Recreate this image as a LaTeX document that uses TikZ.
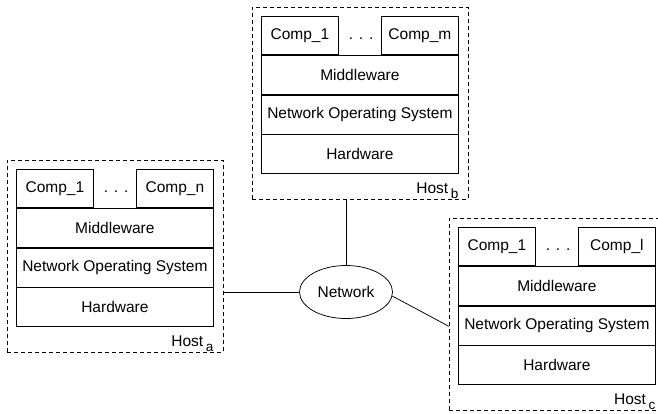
\documentclass[tikz,border=0pt]{standalone}
\usepackage{fontspec}
\setmainfont{Liberation Sans}
\usetikzlibrary{positioning,shapes.geometric}
\tikzset{
    layerbox/.style={
        rectangle,
        draw, % one layer of the stack
        minimum width=197pt,
        minimum height=39pt,
        inner sep=0
    },
    compbox/.style={
        rectangle,
        draw, % component on top of middleware
        minimum width=77pt,
        minimum height=38pt,
        inner sep=0
    },
    hostframe/.style={
        rectangle,
        draw,
        dash pattern=on 4pt off 3pt, % dashed host border
        minimum width=216pt,
        minimum height=192pt,
        inner sep=0,
        anchor=north west
    },
    netnode/.style={
        ellipse,
        draw,
        minimum width=93pt,
        minimum height=53pt,
        inner sep=0
    }
}

\begin{document}
\begin{tikzpicture}[
                x=1pt, y=-1pt,
                line width=0.75pt,
                every node/.style={
                    font=\fontsize{15.5}{18}\selectfont
                }
            ]
            \useasboundingbox (0,0) rectangle (658,413);
            % the three hosts
            \foreach \h/\x/\y/\cn in {a/16/169/n, b/261/16/m, c/458/227/l} {
                \node[compbox, anchor=north west] (\h-c1) at (\x,\y) {Comp\_1};
                \node[layerbox, anchor=north west] (\h-mw) at (\h-c1.south west) {Middleware};
                \node[layerbox, below=0pt of \h-mw] (\h-nos) {Network Operating System};
                \node[layerbox, below=0pt of \h-nos] (\h-hw) {Hardware};
                \node[compbox, anchor=south east] (\h-cn) at (\h-mw.north east) {Comp\_\cn};
                \node[anchor=base west, minimum width=44pt, inner sep=0] (\h-dots) at (\h-c1.base east) {. . .};
                \node[anchor=base east, inner sep=0] (\h-lbl) at ([yshift=-19pt]\h-hw.south east)
                    {Host\,\raisebox{-5pt}{\fontsize{13.5}{13.5}\selectfont \h}};
                \node[hostframe] (\h-frame) at ([xshift=-9pt, yshift=9pt]\h-c1.north west) {};
            }
            % network in the middle
            \node[netnode] (net) at (346,292) {Network};
            \draw (net.north) -- (net.north |- b-frame.south);
            \draw (net.west) -- (net.west -| a-frame.east);
            \draw (net.-5) -- ([yshift=-12pt]c-frame.west);
\end{tikzpicture}
\end{document}
